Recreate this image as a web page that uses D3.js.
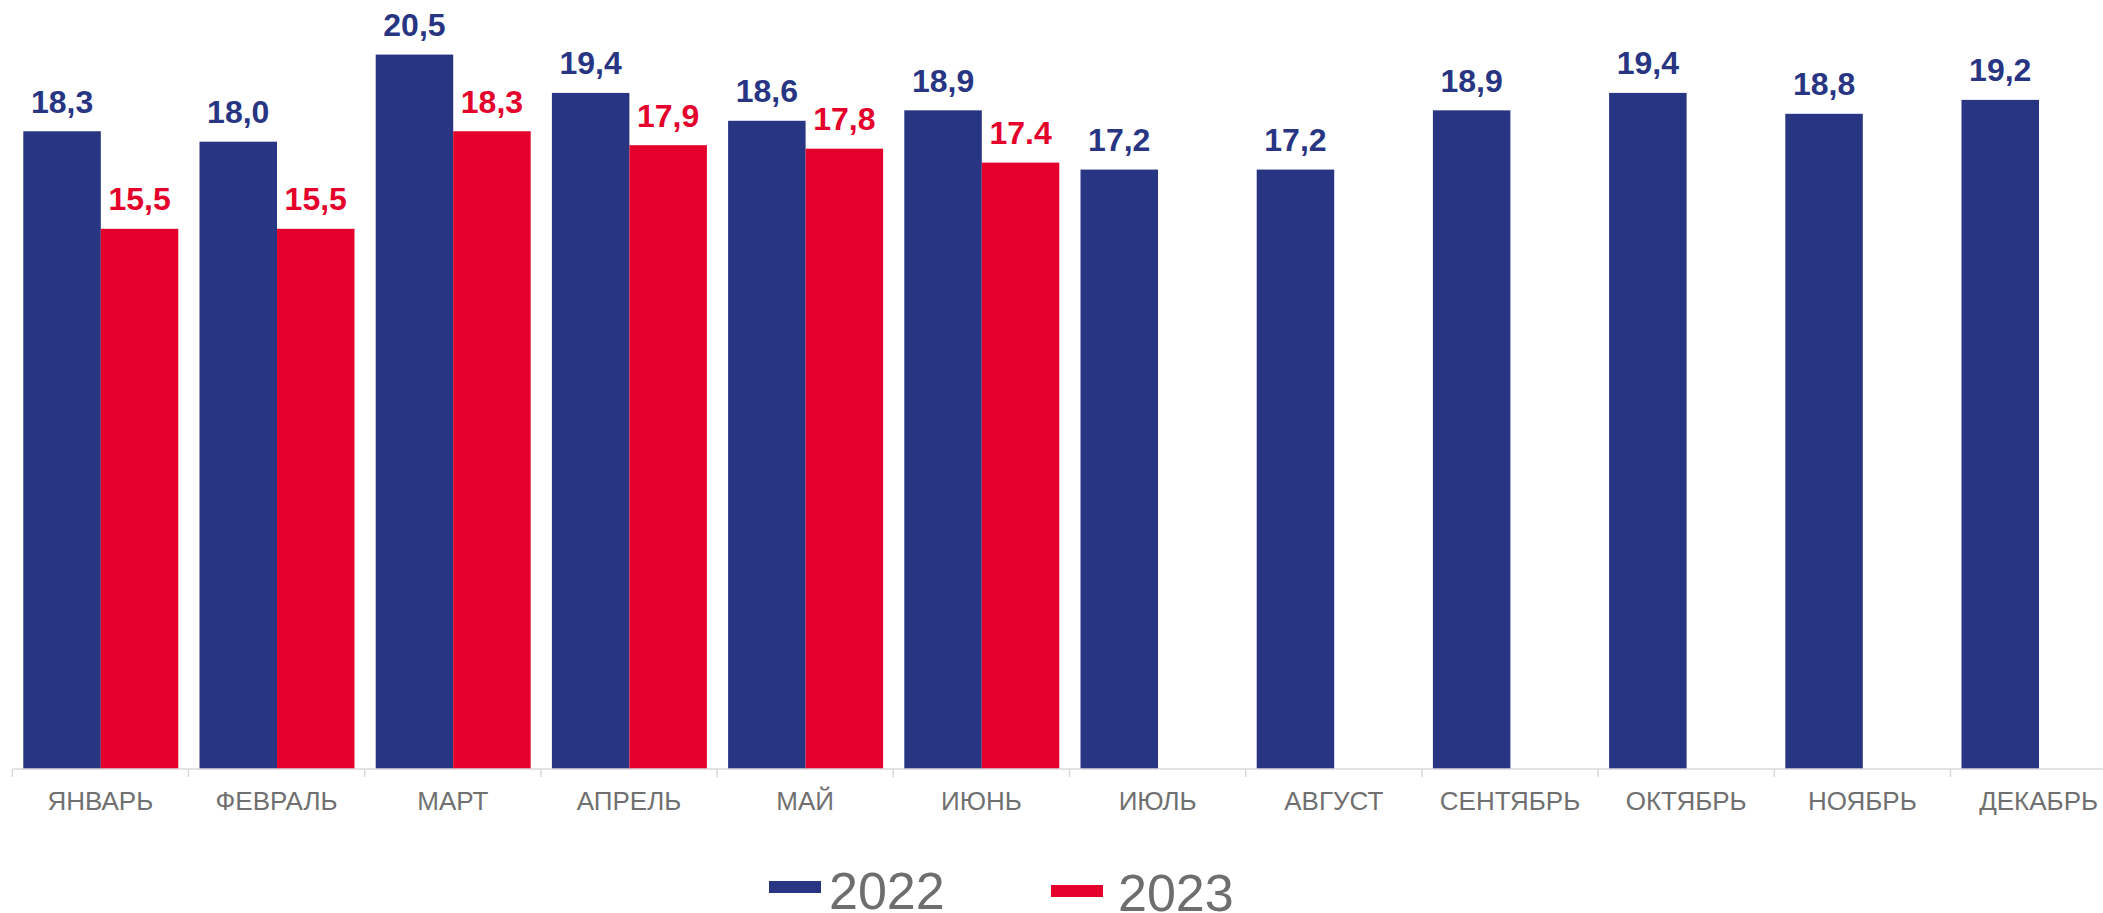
<!DOCTYPE html>
<html>
<head>
<meta charset="utf-8">
<script src="https://cdn.jsdelivr.net/npm/d3@7"></script>
<style>
  html, body { margin: 0; padding: 0; background: #ffffff; overflow: hidden; }
  svg { display: block; font-family: "Liberation Sans", Arial, sans-serif; }
</style>
</head>
<body>
<svg id="chart" width="2103" height="913"></svg>
<script>
const months = ["ЯНВАРЬ","ФЕВРАЛЬ","МАРТ","АПРЕЛЬ","МАЙ","ИЮНЬ","ИЮЛЬ","АВГУСТ","СЕНТЯБРЬ","ОКТЯБРЬ","НОЯБРЬ","ДЕКАБРЬ"];
const seriesNames = ["2022","2023"];
const values2022 = [18.3, 18.0, 20.5, 19.4, 18.6, 18.9, 17.2, 17.2, 18.9, 19.4, 18.8, 19.2];
const values2023 = [15.5, 15.5, 18.3, 17.9, 17.8, 17.4];
const labels2022 = ["18,3","18,0","20,5","19,4","18,6","18,9","17,2","17,2","18,9","19,4","18,8","19,2"];
const labels2023 = ["15,5","15,5","18,3","17,9","17,8","17.4"];

const colors = { "2022": "#283583", "2023": "#e4002b" };

const svg = d3.select("#chart");
const baseY = 769;
const unit = 34.85;
const yMax = 22;

const x0 = d3.scaleBand().domain(months).range([12.3, 12.3 + 12 * 176.2]).padding(0);
const x1 = d3.scaleBand().domain(seriesNames).range([11, 166]).padding(0);
const y = d3.scaleLinear().domain([0, yMax]).range([baseY, baseY - yMax * unit]);

const data = [];
months.forEach((m, i) => {
  data.push({ month: m, series: "2022", value: values2022[i], label: labels2022[i] });
  if (i < values2023.length) {
    data.push({ month: m, series: "2023", value: values2023[i], label: labels2023[i] });
  }
});

// Bars
svg.append("g").selectAll("rect").data(data).join("rect")
  .attr("x", d => x0(d.month) + x1(d.series))
  .attr("y", d => y(d.value))
  .attr("width", x1.bandwidth())
  .attr("height", d => y(0) - y(d.value))
  .attr("fill", d => colors[d.series]);

// Value labels
svg.append("g").selectAll("text").data(data).join("text")
  .attr("x", d => x0(d.month) + x1(d.series) + x1.bandwidth() / 2)
  .attr("y", d => y(d.value) - 18.5)
  .attr("text-anchor", "middle")
  .attr("font-size", 32)
  .attr("font-weight", "bold")
  .attr("fill", d => colors[d.series])
  .text(d => d.label);

// Axis line and boundary ticks
const axisG = svg.append("g");
axisG.append("line")
  .attr("x1", x0.range()[0]).attr("x2", x0.range()[1])
  .attr("y1", baseY).attr("y2", baseY)
  .attr("stroke", "#d9d9d9").attr("stroke-width", 1.5);
const bounds = months.map(m => x0(m)).concat([x0.range()[1]]);
axisG.selectAll("line.tick").data(bounds).join("line")
  .attr("class", "tick")
  .attr("x1", d => d).attr("x2", d => d)
  .attr("y1", baseY).attr("y2", baseY + 8)
  .attr("stroke", "#d9d9d9").attr("stroke-width", 1.5);

// Category labels
axisG.selectAll("text").data(months).join("text")
  .attr("x", d => x0(d) + x0.bandwidth() / 2)
  .attr("y", 810)
  .attr("text-anchor", "middle")
  .attr("font-size", 26)
  .attr("fill", "#707070")
  .text(d => d);

// Legend
const legendItems = [
  { name: "2022", sx: 769, sy: 881, tx: 829, ty: 909.3 },
  { name: "2023", sx: 1051, sy: 885, tx: 1118, ty: 910.7 }
];
const lg = svg.append("g");
lg.selectAll("rect").data(legendItems).join("rect")
  .attr("x", d => d.sx).attr("y", d => d.sy)
  .attr("width", 52).attr("height", 12)
  .attr("fill", d => colors[d.name]);
lg.selectAll("text").data(legendItems).join("text")
  .attr("x", d => d.tx).attr("y", d => d.ty)
  .attr("font-size", 52)
  .attr("fill", "#6e6e6e")
  .text(d => d.name);
</script>
</body>
</html>
